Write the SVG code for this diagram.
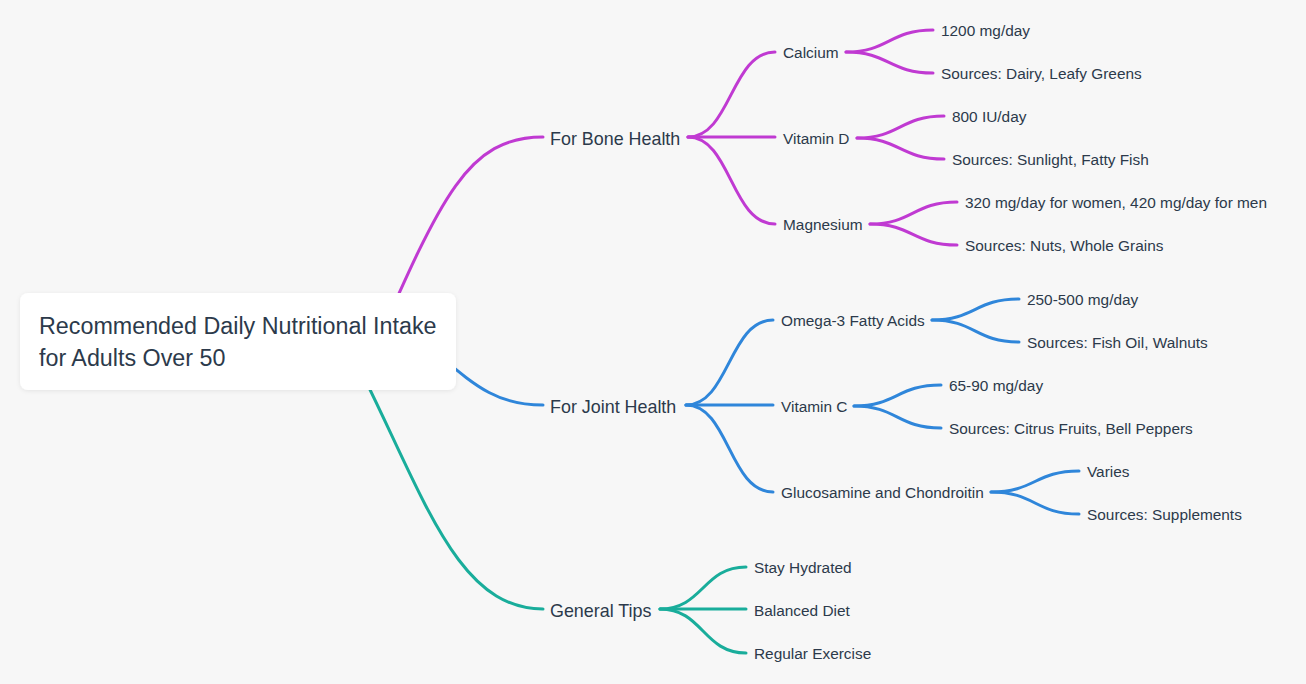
<svg xmlns="http://www.w3.org/2000/svg" width="1306" height="684" viewBox="0 0 1306 684">
<defs>
<style>
text{font-family:"Liberation Sans",Arial,sans-serif;fill:#2c3a4b}
.root{font-size:23.3px}
.l1{font-size:17.9px}
.l2{font-size:15.4px}
path{fill:none;stroke-width:3;stroke-linecap:round}
.p{stroke:#c03ad2}
.b{stroke:#2f86da}
.t{stroke:#19ad9b}
</style>
<filter id="sh" x="-10%" y="-20%" width="120%" height="150%">
<feDropShadow dx="0" dy="1" stdDeviation="2" flood-color="#000" flood-opacity="0.08"/>
</filter>
</defs>
<rect width="1306" height="684" fill="#f7f7f7"/>
<g id="connectors">
<path class="p" d="M365 370 C440 200 465 137 543 137"/>
<path class="b" d="M420 340 C470 380 490 405 543 405"/>
<path class="t" d="M340 330 C420 480 450 609 543 609"/>
<path class="p" d="M688 137 C731 137 731 52 775 52"/>
<path class="p" d="M688 137 L775 137"/>
<path class="p" d="M688 137 C731 137 731 224 775 224"/>
<path class="p" d="M846 52 C889 52 889 30 933 30"/>
<path class="p" d="M846 52 C889 52 889 73 933 73"/>
<path class="p" d="M857 138 C900 138 900 116 944 116"/>
<path class="p" d="M857 138 C900 138 900 159 944 159"/>
<path class="p" d="M870 224 C913 224 913 202 957 202"/>
<path class="p" d="M870 224 C913 224 913 245 957 245"/>
<path class="b" d="M686 405 C729 405 729 320 773 320"/>
<path class="b" d="M686 405 L773 405"/>
<path class="b" d="M686 405 C729 405 729 492 773 492"/>
<path class="b" d="M932 320 C975 320 975 299 1019 299"/>
<path class="b" d="M932 320 C975 320 975 342 1019 342"/>
<path class="b" d="M854 406 C897 406 897 385 941 385"/>
<path class="b" d="M854 406 C897 406 897 428 941 428"/>
<path class="b" d="M991 492 C1035 492 1035 471 1079 471"/>
<path class="b" d="M991 492 C1035 492 1035 514 1079 514"/>
<path class="t" d="M660 609 C703 609 703 567 746 567"/>
<path class="t" d="M660 609 L746 609"/>
<path class="t" d="M660 609 C703 609 703 653 746 653"/>
</g>
<g id="root">
<rect x="20" y="293" width="436" height="97" rx="8" fill="#ffffff" filter="url(#sh)"/>
<text class="root" x="39" y="334">Recommended Daily Nutritional Intake</text>
<text class="root" x="39" y="366">for Adults Over 50</text>
</g>
<g id="bone"><text class="l1" x="550" y="145">For Bone Health</text></g>
<g id="calcium"><text class="l2" x="783" y="58">Calcium</text></g>
<g id="calcium-amt"><text class="l2" x="941" y="36">1200 mg/day</text></g>
<g id="calcium-src"><text class="l2" x="941" y="79">Sources: Dairy, Leafy Greens</text></g>
<g id="vitd"><text class="l2" x="783" y="144">Vitamin D</text></g>
<g id="vitd-amt"><text class="l2" x="952" y="122">800 IU/day</text></g>
<g id="vitd-src"><text class="l2" x="952" y="165">Sources: Sunlight, Fatty Fish</text></g>
<g id="mag"><text class="l2" x="783" y="230">Magnesium</text></g>
<g id="mag-amt"><text class="l2" x="965" y="208">320 mg/day for women, 420 mg/day for men</text></g>
<g id="mag-src"><text class="l2" x="965" y="251">Sources: Nuts, Whole Grains</text></g>
<g id="joint"><text class="l1" x="550" y="413">For Joint Health</text></g>
<g id="omega"><text class="l2" x="781" y="326">Omega-3 Fatty Acids</text></g>
<g id="omega-amt"><text class="l2" x="1027" y="305">250-500 mg/day</text></g>
<g id="omega-src"><text class="l2" x="1027" y="348">Sources: Fish Oil, Walnuts</text></g>
<g id="vitc"><text class="l2" x="781" y="412">Vitamin C</text></g>
<g id="vitc-amt"><text class="l2" x="949" y="391">65-90 mg/day</text></g>
<g id="vitc-src"><text class="l2" x="949" y="434">Sources: Citrus Fruits, Bell Peppers</text></g>
<g id="gluc"><text class="l2" x="781" y="498">Glucosamine and Chondroitin</text></g>
<g id="gluc-amt"><text class="l2" x="1087" y="477">Varies</text></g>
<g id="gluc-src"><text class="l2" x="1087" y="520">Sources: Supplements</text></g>
<g id="general"><text class="l1" x="550" y="617">General Tips</text></g>
<g id="hydrated"><text class="l2" x="754" y="573">Stay Hydrated</text></g>
<g id="diet"><text class="l2" x="754" y="616">Balanced Diet</text></g>
<g id="exercise"><text class="l2" x="754" y="659">Regular Exercise</text></g>
</svg>
